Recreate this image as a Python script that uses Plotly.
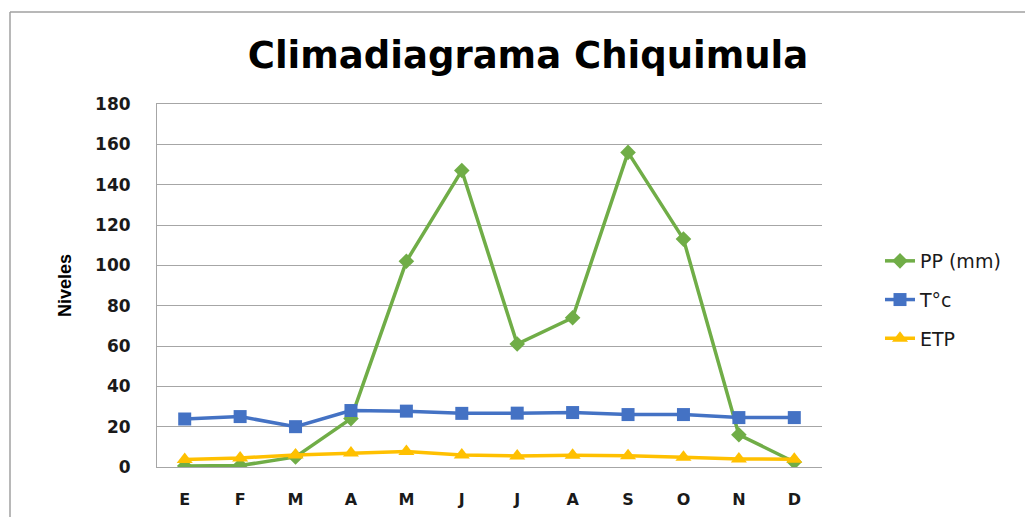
import plotly.graph_objects as go

months = ["E", "F", "M", "A", "M", "J", "J", "A", "S", "O", "N", "D"]
pp_mm = [0.5, 0.7, 5, 24, 102, 147, 61, 74, 156, 113, 16, 2.5]
temp_c = [23.8, 25, 20, 28, 27.7, 26.6, 26.7, 27, 26, 26, 24.5, 24.5]
etp = [3.7, 4.5, 6, 7, 7.7, 6, 5.5, 5.8, 5.6, 4.8, 4, 3.8]
y_ticks = [0, 20, 40, 60, 80, 100, 120, 140, 160, 180]

x_idx = list(range(len(months)))

fig = go.Figure()
fig.add_trace(go.Scatter(x=x_idx, y=pp_mm, name="PP (mm)", mode="lines+markers", legendgroup="a",
                         line=dict(color="#70AD47", width=3.5),
                         marker=dict(symbol="diamond", size=12, color="#70AD47")))
fig.add_trace(go.Scatter(x=x_idx, y=temp_c, name="T°c", mode="lines+markers", legendgroup="b",
                         line=dict(color="#4472C4", width=3.5),
                         marker=dict(symbol="square", size=13, color="#4472C4")))
fig.add_trace(go.Scatter(x=x_idx, y=etp, name="ETP", mode="lines+markers", legendgroup="c",
                         line=dict(color="#FFC000", width=3.5),
                         marker=dict(symbol="triangle-up", size=14, color="#FFC000")))

# plot area in the page: x 157..822, y 104..467 (page has 8px body margin)
fig.update_layout(
    width=1025, height=509,
    margin=dict(l=149, r=211, t=96, b=50, autoexpand=False),
    paper_bgcolor="white", plot_bgcolor="white",
    title=dict(text="<b>Climadiagrama Chiquimula</b>", x=(528 - 8) / 1025, xanchor="center",
               y=1 - (55 - 8) / 509, yanchor="middle",
               font=dict(family="DejaVu Sans", size=37, color="#000000")),
    showlegend=True,
    legend=dict(x=1 + (880 - 822) / 665, y=(467 - 300) / 363, xanchor="left", yanchor="middle",
                font=dict(family="DejaVu Sans", size=19, color="#1a1a1a"),
                tracegroupgap=11, bgcolor="rgba(0,0,0,0)"),
    xaxis=dict(tickmode="array", tickvals=x_idx, ticktext=["<b>%s</b>" % m for m in months],
               range=[-0.5, 11.5], showgrid=False, zeroline=False, automargin=False,
               showline=True, mirror=True, linecolor="#a6a6a6", linewidth=1,
               ticks="", tickfont=dict(family="DejaVu Sans", size=16, color="#1a1a1a"),
               ticklabelstandoff=18),
    yaxis=dict(range=[0, 180], tickmode="array", tickvals=y_ticks, automargin=False,
               ticktext=["<b>%d</b>" % v for v in y_ticks],
               showgrid=True, gridcolor="#a6a6a6", gridwidth=1,
               zeroline=False, showline=True, linecolor="#a6a6a6", linewidth=1,
               ticks="", tickfont=dict(family="DejaVu Sans", size=17, color="#1a1a1a"),
               ticklabelstandoff=22,
               title=dict(text="<b>Niveles</b>", standoff=18,
                          font=dict(family="Liberation Sans", size=18, color="#000"))),
)

# outer chart frame (partially visible top and left edges)
top = 1 + (104 - 12) / 363
left = (10 - 157) / 665
fig.add_shape(type="line", xref="paper", yref="paper",
              x0=left, x1=(1040 - 157) / 665, y0=top, y1=top,
              line=dict(color="#a0a0a0", width=1.5))
fig.add_shape(type="line", xref="paper", yref="paper",
              x0=left, x1=left, y0=top, y1=-(530 - 467) / 363,
              line=dict(color="#a0a0a0", width=1.5))

fig.write_html("out.html")
